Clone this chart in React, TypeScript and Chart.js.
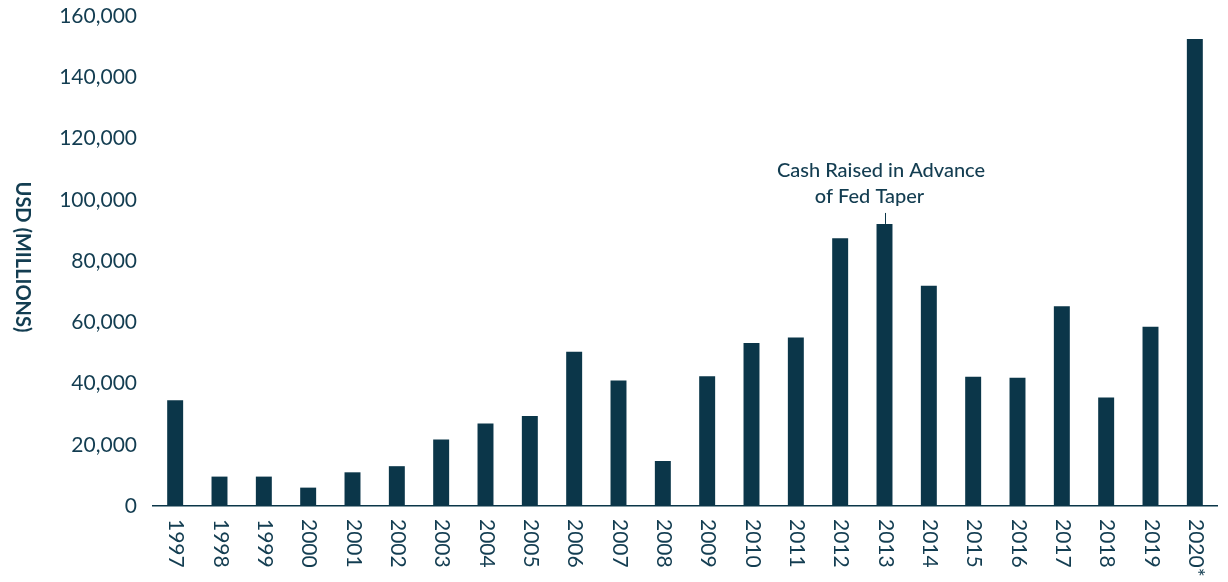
import React, { useEffect, useRef } from "react";
import { Chart, registerables } from "chart.js";

Chart.register(...registerables);

const years = [
  "1997", "1998", "1999", "2000", "2001", "2002", "2003", "2004", "2005", "2006", "2007", "2008",
  "2009", "2010", "2011", "2012", "2013", "2014", "2015", "2016", "2017", "2018", "2019", "2020*",
];

const cashRaised = [
  34500, 9600, 9600, 6000, 11000, 13000, 21700, 26900, 29400, 50400, 41000, 14700,
  42400, 53200, 55000, 87400, 92100, 71900, 42200, 41900, 65200, 35400, 58500, 152500,
];

const yTickMax = 160000;
const yTickStep = 20000;
const yTitle = "USD (MILLIONS)";
const annotationYear = "2013";
const annotationLines = ["Cash Raised in Advance", "of Fed Taper"];

const BAR = "#0b3649";
const TEXT = "#133d51";
const FONT = "Lato, 'Open Sans', sans-serif";

export default function App() {
  const ref = useRef<HTMLCanvasElement | null>(null);

  useEffect(() => {
    if (!ref.current) return;

    const customText = {
      id: "customText",
      afterDraw(chart: any) {
        const ctx = chart.ctx;
        const xs = chart.scales.x;
        const ys = chart.scales.y;
        const area = chart.chartArea;
        ctx.save();
        ctx.fillStyle = TEXT;
        // x labels rotated clockwise
        ctx.font = `400 21px ${FONT}`;
        ctx.textAlign = "left";
        ctx.textBaseline = "middle";
        years.forEach((label, i) => {
          const x = xs.getPixelForTick(i);
          ctx.save();
          ctx.translate(x + 1, area.bottom + 13);
          ctx.rotate(Math.PI / 2);
          ctx.fillText(label, 0, 0);
          ctx.restore();
        });
        // y title rotated clockwise
        ctx.font = `700 20px ${FONT}`;
        ctx.textAlign = "center";
        ctx.save();
        ctx.translate(22, (area.top + area.bottom) / 2 - 4);
        ctx.rotate(Math.PI / 2);
        ctx.fillText(yTitle, 0, 0);
        ctx.restore();
        // annotation
        const idx = years.indexOf(annotationYear);
        const ax = xs.getPixelForValue(idx);
        const ay = ys.getPixelForValue(cashRaised[idx]);
        ctx.strokeStyle = BAR;
        ctx.lineWidth = 1;
        ctx.beginPath();
        ctx.moveTo(Math.round(ax) + 0.5, ay - 11);
        ctx.lineTo(Math.round(ax) + 0.5, ay);
        ctx.stroke();
        ctx.font = `500 20px ${FONT}`;
        ctx.textBaseline = "alphabetic";
        ctx.textAlign = "center";
        ctx.fillText(annotationLines[0], ax - 3.5, ay - 47.3);
        ctx.fillText(annotationLines[1], ax - 15, ay - 20.7);
        ctx.restore();
      },
    };

    const chart = new Chart(ref.current, {
      type: "bar",
      data: {
        labels: years,
        datasets: [
          {
            data: cashRaised,
            backgroundColor: BAR,
            borderWidth: 0,
            barPercentage: 0.36,
            categoryPercentage: 1,
          },
        ],
      },
      options: {
        responsive: false,
        animation: false,
        layout: { padding: { top: 16, right: 11, left: 0, bottom: 0 } },
        plugins: {
          legend: { display: false },
          tooltip: { enabled: false },
          title: { display: false },
        },
        scales: {
          x: {
            offset: true,
            grid: { display: false, drawTicks: false },
            border: { display: true, color: BAR, width: 1.5 },
            ticks: { display: false },
            afterFit: (s: any) => {
              s.height = 76;
              s.paddingLeft = 0;
              s.paddingRight = 0;
            },
          },
          y: {
            min: 0,
            max: yTickMax,
            grid: { display: false, drawTicks: false },
            border: { display: false },
            ticks: {
              stepSize: yTickStep,
              padding: 16,
              color: TEXT,
              font: { family: FONT, size: 21, weight: 400 },
            },
            afterFit: (s: any) => {
              s.width = 153;
              s.paddingTop = 0;
              s.paddingBottom = 0;
            },
          },
        },
      },
      plugins: [customText],
    });

    return () => chart.destroy();
  }, []);

  return (
    <div style={{ position: "fixed", left: 0, top: 0, width: 1228, height: 582, background: "#fff" }}>
      <canvas ref={ref} width={1228} height={582} />
    </div>
  );
}
